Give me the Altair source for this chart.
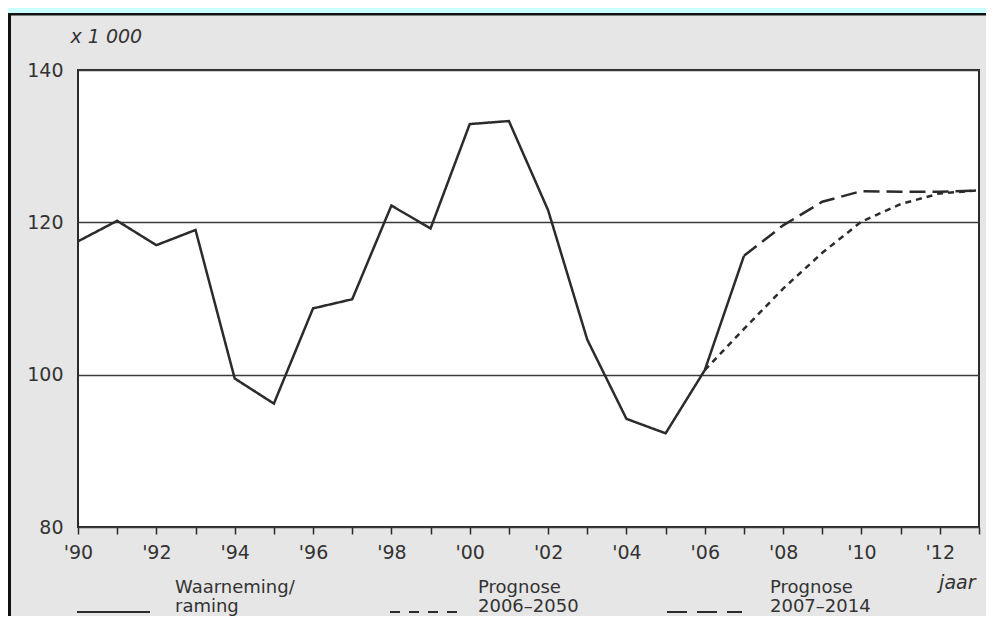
import altair as alt
import pandas as pd

# ---- data ----
obs_years = list(range(1990, 2008))
obs_values = [117.5, 120.2, 117.0, 119.0, 99.5, 96.2, 108.7, 109.9, 122.2, 119.2,
              132.9, 133.3, 121.6, 104.6, 94.2, 92.3, 100.6, 115.6]
p06_years = list(range(2006, 2014))
p06_values = [100.6, 106.0, 111.3, 116.0, 120.1, 122.4, 123.8, 124.2]
p07_years = list(range(2007, 2014))
p07_values = [115.6, 119.6, 122.7, 124.1, 124.0, 124.0, 124.2]
series_names = ["Waarneming/ raming", "Prognose 2006\u20132050", "Prognose 2007\u20132014"]
y_ticks = [80, 100, 120, 140]
x_ticks = list(range(1990, 2014))

rows = []
for yrs, vals, name in [(obs_years, obs_values, series_names[0]),
                        (p06_years, p06_values, series_names[1]),
                        (p07_years, p07_values, series_names[2])]:
    for yr, v in zip(yrs, vals):
        rows.append({"jaar": yr, "waarde": v, "reeks": name})
df = pd.DataFrame(rows)

FONT = "DejaVu Sans"
INK = "#333333"
LINE = "#2b2b2b"
W, H = 901, 457
PLOT_DASH = [[1, 0], [6, 5], [16, 7]]
LEG_DASH = [[1, 0], [10, 9], [20, 10]]

lines = alt.Chart(df).mark_line(strokeWidth=2.5, color=LINE).encode(
    x=alt.X("jaar:Q",
            scale=alt.Scale(domain=[1990, 2013], nice=False, zero=False),
            axis=alt.Axis(values=x_ticks,
                          labelExpr="datum.value % 2 === 0 && datum.value < 2013 ? \"'\" + substring(toString(datum.value), 2, 4) : ''",
                          labelFlush=False, labelOverlap=False, domain=False,
                          tickSize=7, tickWidth=1.5, tickColor=LINE, labelPadding=9,
                          labelFont=FONT, labelFontSize=19, labelColor=INK, grid=False,
                          title="jaar", titleX=897, titleY=61, titleAlign="right",
                          titleBaseline="alphabetic", titleFontStyle="italic",
                          titleFontWeight="normal", titleFont=FONT, titleFontSize=19,
                          titleColor=INK)),
    y=alt.Y("waarde:Q",
            scale=alt.Scale(domain=[80, 140], nice=False, zero=False),
            axis=alt.Axis(values=y_ticks, domain=False, ticks=False, labelPadding=15,
                          labelFont=FONT, labelFontSize=19, labelColor=INK,
                          grid=True, gridColor="#3a3a3a", gridWidth=1.5,
                          title="x 1 000", titleAngle=0, titleX=-8, titleY=-28,
                          titleAlign="left", titleBaseline="alphabetic",
                          titleFontStyle="italic", titleFontWeight="normal",
                          titleFont=FONT, titleFontSize=19, titleColor=INK)),
    strokeDash=alt.StrokeDash("reeks:N",
                              scale=alt.Scale(domain=series_names, range=PLOT_DASH),
                              legend=None),
)

one = pd.DataFrame({"k": [0]})
cyan = alt.Chart(one).mark_rect(color="#ccffff").encode(
    x=alt.value(-70), x2=alt.value(W + 10), y=alt.value(-62), y2=alt.value(-57))
top_border = alt.Chart(one).mark_rule(color="#111111", strokeWidth=2.5).encode(
    x=alt.value(-70), x2=alt.value(W + 10), y=alt.value(-55.75))
left_border = alt.Chart(one).mark_rule(color="#111111", strokeWidth=3).encode(
    x=alt.value(-68.5), y=alt.value(-57), y2=alt.value(H + 100))

# hand-placed legend (three entries, two text lines each)
sample_x = [(-1, 72), (312, 379), (589, 664)]
text_x = [97, 400, 692]
legend_layers = []
for i, name in enumerate(series_names):
    first, second = name.split(" ", 1)
    x0, x1 = sample_x[i]
    legend_layers.append(
        alt.Chart(one).mark_rule(color=LINE, strokeWidth=2, strokeDash=LEG_DASH[i]).encode(
            x=alt.value(x0), x2=alt.value(x1), y=alt.value(542)))
    legend_layers.append(
        alt.Chart(one).mark_text(text=first, font=FONT, fontSize=18, color=INK,
                                 align="left", baseline="alphabetic").encode(
            x=alt.value(text_x[i]), y=alt.value(523)))
    legend_layers.append(
        alt.Chart(one).mark_text(text=second, font=FONT, fontSize=18, color=INK,
                                 align="left", baseline="alphabetic").encode(
            x=alt.value(text_x[i]), y=alt.value(542)))

chart = alt.layer(cyan, top_border, left_border, lines, *legend_layers).properties(
    width=W, height=H,
    background="#e6e6e6",
    autosize=alt.AutoSizeParams(type="none"),
    padding={"left": 70, "top": 62, "right": 7, "bottom": 89},
).configure_view(stroke=LINE, strokeWidth=2, fill="white")

chart.save("out.html", embed_options={"renderer": "svg", "actions": False})
